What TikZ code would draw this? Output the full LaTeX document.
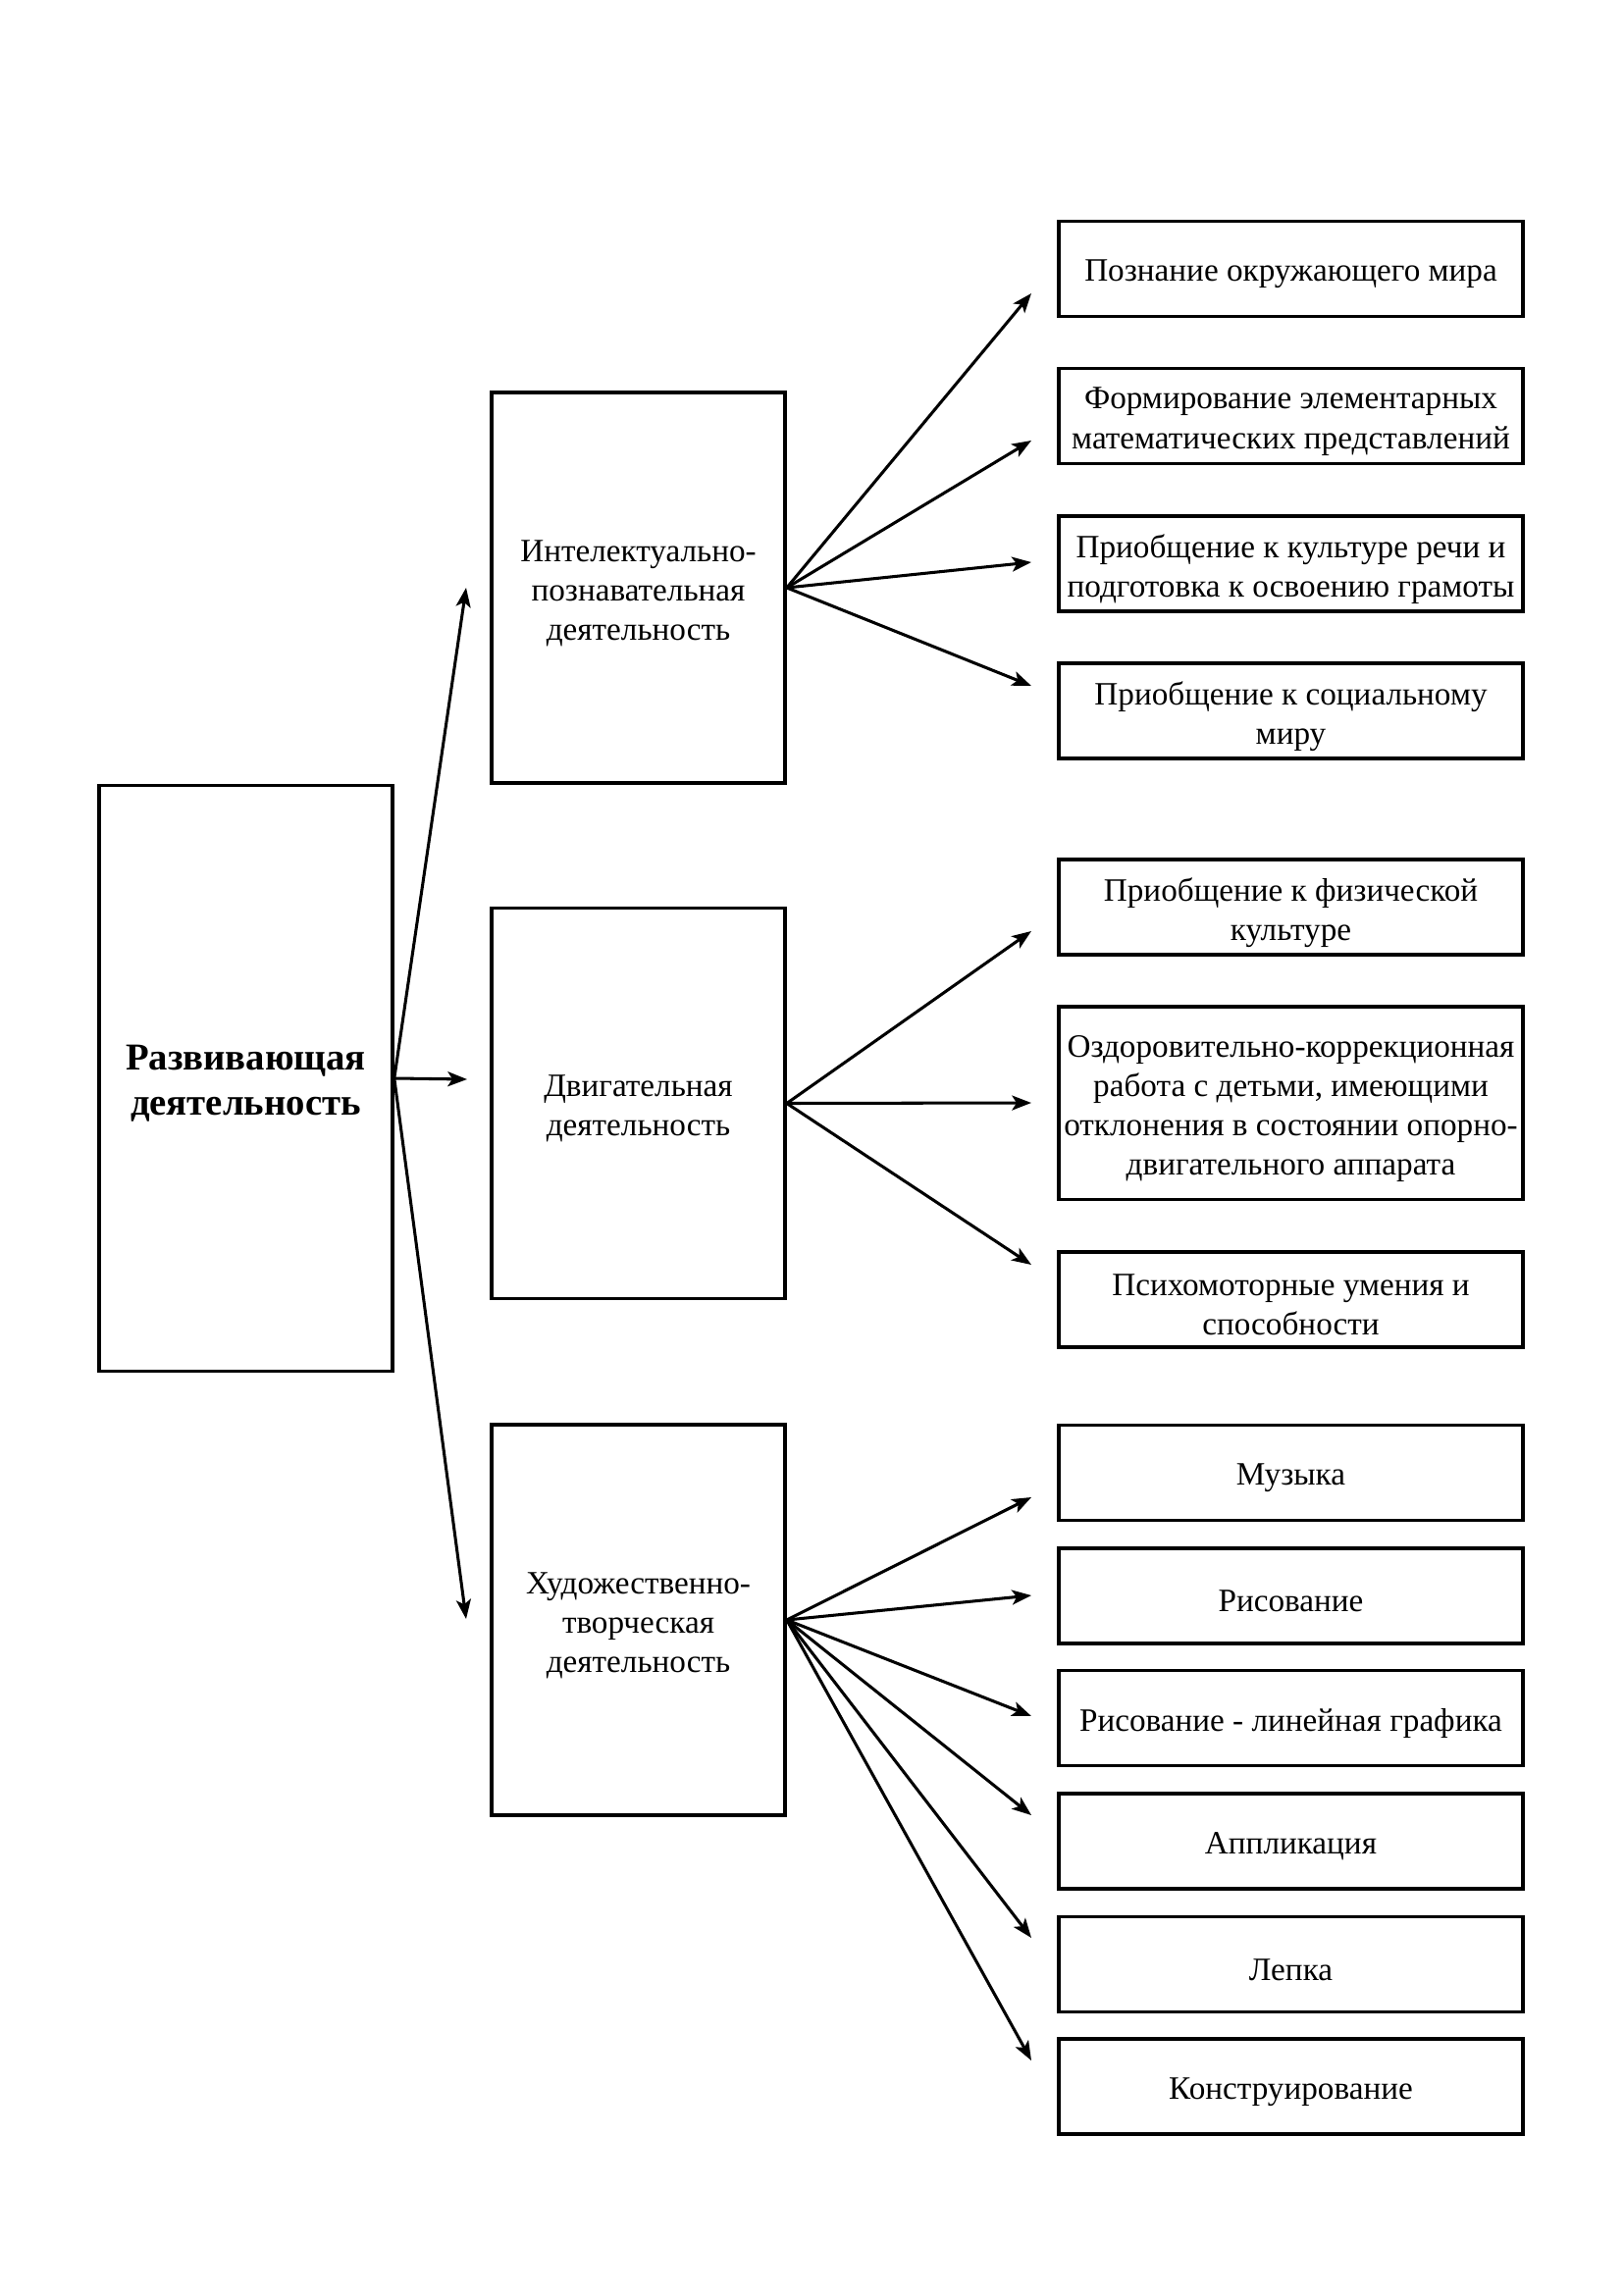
\documentclass[tikz,border=0pt]{standalone}
\usepackage{fontspec}
\setmainfont{Liberation Serif}
\usetikzlibrary{arrows.meta}
\begin{document}
\begin{tikzpicture}[x=0.127mm,y=-0.127mm,
  box/.style={draw,line width=1.3pt,inner sep=0pt},
  txt/.style={align=center,inner sep=0pt,yshift=-0.7mm,
    font=\fontsize{12}{14.5}\selectfont},
  maintxt/.style={txt,font=\fontsize{14}{16.6}\selectfont\bfseries},
  mainbox/.style={box,minimum width=37.97mm,minimum height=75.82mm},
  midbox/.style={box,minimum width=37.97mm,minimum height=50.55mm},
  rbox/.style={box,minimum width=60.07mm,minimum height=12.32mm},
  arr/.style={line width=1.1pt,-{Stealth[length=2.5mm,width=1.9mm,inset=0.6mm]}}]
\useasboundingbox (0,0) rectangle (1654,2338);

\node[mainbox,label={[maintxt]center:{Развивающая\\деятельность}}] (main) at (250.5,1099) {};

\node[midbox,label={[txt]center:{Интелектуально-\\познавательная\\деятельность}}] (A) at (650.5,599) {};
\node[midbox,label={[txt]center:{Двигательная\\деятельность}}] (B) at (650.5,1124.5) {};
\node[midbox,label={[txt]center:{Художественно-\\творческая\\деятельность}}] (C) at (650.5,1651) {};

\node[rbox,label={[txt]center:{Познание окружающего мира}}] (r1) at (1315.5,274) {};
\node[rbox,label={[txt]center:{Формирование элементарных\\математических представлений}}] (r2) at (1315.5,424.2) {};
\node[rbox,label={[txt]center:{Приобщение к культуре речи и\\подготовка к освоению грамоты}}] (r3) at (1315.5,574.5) {};
\node[rbox,label={[txt]center:{Приобщение к социальному\\миру}}] (r4) at (1315.5,724.5) {};
\node[rbox,label={[txt]center:{Приобщение к физической\\культуре}}] (r5) at (1315.5,924.5) {};
\node[rbox,minimum height=24.96mm,label={[txt]center:{Оздоровительно-коррекционная\\работа с детьми, имеющими\\отклонения в состоянии опорно-\\двигательного аппарата}}] (r6) at (1315.5,1124.25) {};
\node[rbox,label={[txt]center:{Психомоторные умения и\\способности}}] (r7) at (1315.5,1324.3) {};
\node[rbox,label={[txt]center:{Музыка}}] (r8) at (1315.5,1501) {};
\node[rbox,label={[txt]center:{Рисование}}] (r9) at (1315.5,1626.5) {};
\node[rbox,label={[txt]center:{Рисование - линейная графика}}] (r10) at (1315.5,1751) {};
\node[rbox,label={[txt]center:{Аппликация}}] (r11) at (1315.5,1876.5) {};
\node[rbox,label={[txt]center:{Лепка}}] (r12) at (1315.5,2002) {};
\node[rbox,label={[txt]center:{Конструирование}}] (r13) at (1315.5,2126.5) {};

% arrow tips
\coordinate (tA) at (475,599);
\coordinate (tB) at (476,1100);
\coordinate (tC) at (475,1650);
\coordinate (t1) at (1051,299);
\coordinate (t2) at (1051,449);
\coordinate (t3) at (1051,573);
\coordinate (t4) at (1051,699);
\coordinate (t5) at (1051,949);
\coordinate (t6) at (1051,1124);
\coordinate (t7) at (1051,1289);
\coordinate (t8) at (1051,1526);
\coordinate (t9) at (1051,1626);
\coordinate (t10) at (1051,1749);
\coordinate (t11) at (1051,1850);
\coordinate (t12) at (1051,1975);
\coordinate (t13) at (1051,2100);

\foreach \t in {tA,tB,tC} \draw[arr] (main.east) -- (\t);
\foreach \t in {t1,t2,t3,t4} \draw[arr] (A.east) -- (\t);
\foreach \t in {t5,t6,t7} \draw[arr] (B.east) -- (\t);
\foreach \t in {t8,t9,t10,t11,t12,t13} \draw[arr] (C.east) -- (\t);
\end{tikzpicture}
\end{document}
